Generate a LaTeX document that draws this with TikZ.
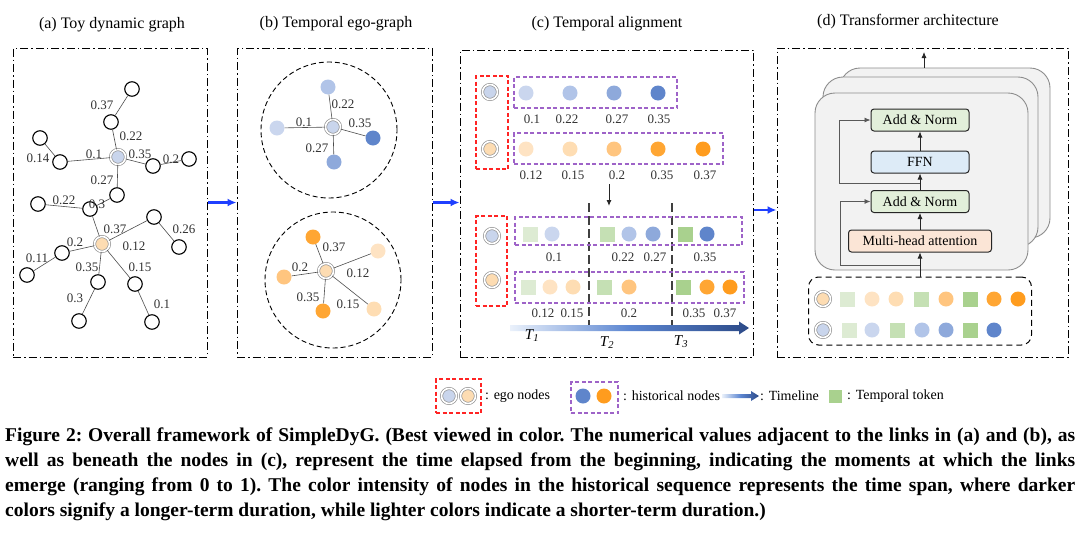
\documentclass[tikz,border=0pt]{standalone}
\usepackage{fontspec}
\setmainfont{Liberation Serif}
\usetikzlibrary{arrows.meta}

\definecolor{egoBlueC}{HTML}{C9D5EC}
\definecolor{egoOrangeC}{HTML}{FDDCB2}
\definecolor{blueA}{HTML}{CAD6EE}
\definecolor{blueB}{HTML}{B1C4E8}
\definecolor{blueC}{HTML}{8EA9DB}
\definecolor{blueD}{HTML}{5F85CB}
\definecolor{orangeA}{HTML}{FEE3C3}
\definecolor{orangeB}{HTML}{FEDDB3}
\definecolor{orangeC}{HTML}{FFC57F}
\definecolor{orangeD}{HTML}{FFA633}
\definecolor{orangeE}{HTML}{FF9C1E}
\definecolor{greenA}{HTML}{DDEBD3}
\definecolor{greenB}{HTML}{C5E0B4}
\definecolor{greenC}{HTML}{A9D18E}
\definecolor{egoRed}{HTML}{FF2424}
\definecolor{histPurple}{HTML}{9E63C8}
\definecolor{arrowBlue}{HTML}{1F3FFF}
\definecolor{tlLight}{HTML}{EAF1FB}
\definecolor{tlMid}{HTML}{5C86D1}
\definecolor{tlDark}{HTML}{2C4A88}
\definecolor{normGreen}{HTML}{E2EFDA}
\definecolor{ffnBlue}{HTML}{DDEBF7}
\definecolor{mhaPeach}{HTML}{FBE5D6}

\begin{document}
\begin{tikzpicture}
[x=1pt,y=-1pt,
  frameBox/.style={draw,line width=1pt,dash pattern=on 8pt off 3pt on 1.5pt off 3pt,inner sep=0pt},%
  titleText/.style={font=\fontsize{16}{18}\selectfont},%
  plainDecorate/.style={shape=circle,draw,line width=1.1pt,minimum size=14.5pt,inner sep=0pt,fill=white},%
  lineDecorate/.style={-,draw=black!70,line width=0.6pt},%
  timeLabel/.style={font=\fontsize{13}{14}\selectfont,text=black!80,inner sep=0pt},%
  ego/.style={shape=circle,draw=gray!85,line width=0.7pt,double=white,double distance=1.6pt,minimum size=15pt,inner sep=0pt},%
  egoBlue/.style={ego,fill=egoBlueC},%
  egoOrange/.style={ego,fill=egoOrangeC},%
  hist/.style={shape=circle,minimum size=15pt,inner sep=0pt},%
  tok/.style={shape=rectangle,minimum size=15pt,inner sep=0pt},%
  egoBox/.style={draw=egoRed,line width=1.2pt,dash pattern=on 4pt off 2.5pt,inner sep=0pt},%
  histBox/.style={draw=histPurple,line width=1.2pt,dash pattern=on 4pt off 2.5pt,inner sep=0pt},%
  spanLine/.style={draw=black!75,line width=1.2pt,dash pattern=on 9pt off 4pt},%
  blueArrow/.style={-{Latex[length=9pt,width=8pt]},draw=arrowBlue,line width=2.2pt},%
  flowArrow/.style={-{Latex[length=6pt,width=5pt]},draw=black!85,line width=0.8pt},%
  resLine/.style={draw=black!65,line width=0.8pt},%
  layerBox/.style={draw=gray!90,line width=0.9pt,fill=gray!10,rounded corners=20pt,inner sep=0pt},%
  blockBox/.style={draw=black!85,line width=1pt,rounded corners=3pt,minimum height=22pt,inner sep=0pt,font=\fontsize{14}{16}\selectfont},%
  legendText/.style={font=\fontsize{14}{16}\selectfont,anchor=west,inner sep=0pt}]
\useasboundingbox (0,0) rectangle (1080,544);

%% panel frames and titles
\node (fa) at (110,202.5) [frameBox,minimum width=194pt,minimum height=309pt] {};
\node (fb) at (334.5,202.5) [frameBox,minimum width=195pt,minimum height=309pt] {};
\node (fc) at (606.5,203.5) [frameBox,minimum width=293pt,minimum height=307pt] {};
\node (fd) at (922.5,202.5) [frameBox,minimum width=291pt,minimum height=309pt] {};
\node (ta) at (112,25) [titleText] {(a) Toy dynamic graph};
\node (tb) at (336,24) [titleText] {(b) Temporal ego-graph};
\node (tc) at (607,24) [titleText] {(c) Temporal alignment};
\node (td) at (908,22) [titleText] {(d) Transformer architecture};
\draw[blueArrow] (fa.east) -- (fb.west);
\draw[blueArrow] (fb.east) -- (fc.west |- fb.east);
\draw[blueArrow] ([yshift=-6.5pt]fc.east) -- ([yshift=-7.5pt]fd.west);

%% (a) nodes or vertices
\foreach \nodename/\x/\y in {
  a1/132/89,  a2/111/122, a3/40/138,  a4/60/162,
  a5/153/166, a6/189/159, a7/117/195, a8/90/209,
  a9/38/204,  a10/154/217, a11/179/247, a12/62/253,
  a13/27/275, a14/98/282, a15/79/321, a16/135/284, a17/152/322}
{
  \node (\nodename) at (\x,\y) [plainDecorate] {};
}
\node (aB) at (118,157) [egoBlue] {};
\node (aO) at (102,244) [egoOrange] {};
%% (a) edges or lines
\path
\foreach \startnode/\endnode in {
  a1/a2, a2/aB, aB/a4, a3/a4, aB/a5, a5/a6,
  aB/a7, a7/a8, a8/a9, a8/aO, aO/a10, a10/a11,
  aO/a12, a12/a13, aO/a14, a14/a15, aO/a16, a16/a17}
{
  (\startnode) edge[lineDecorate] (\endnode)
};
%% (a) link times
\foreach \lname/\x/\y/\t in {
  la1/102/105/0.37, la2/131/136/0.22, la3/94/154/0.1,  la4/38/158/0.14,
  la5/140/154/0.35, la6/171/159/0.2,  la7/102/180/0.27, la8/97/204/0.3,
  la9/64/200/0.22,  la10/115/229/0.37, la11/134/246/0.12, la12/184/229/0.26,
  la13/75/242/0.2,  la14/37/258/0.11, la15/87/267/0.35, la16/75/298/0.3,
  la17/140/267/0.15, la18/162/304/0.1}
{
  \node (\lname) at (\x,\y) [timeLabel] {\t};
}

%% (b) ego-graphs
\node (cb1) at (329,130) [draw,circle,line width=0.9pt,dash pattern=on 5pt off 3pt,minimum size=136pt,inner sep=0pt] {};
\node (cb2) at (333,280) [draw,circle,line width=0.9pt,dash pattern=on 5pt off 3pt,minimum size=136pt,inner sep=0pt] {};
\foreach \nodename/\x/\y/\col in {
  b1/328/87/blueB, b2/277/128/blueA, b3/373/138/blueD, b4/334/162/blueC,
  b5/313/237/orangeD, b6/284/277/orangeC, b7/378/251/orangeA,
  b8/323/311/orangeD, b9/374/309/orangeB}
{
  \node (\nodename) at (\x,\y) [hist,fill=\col] {};
}
\node (bB) at (333,127) [egoBlue] {};
\node (bO) at (326,271) [egoOrange] {};
\path
\foreach \startnode/\endnode in {
  bB/b1, bB/b2, bB/b3, bB/b4,
  bO/b5, bO/b6, bO/b7, bO/b8, bO/b9}
{
  (\startnode) edge[lineDecorate] (\endnode)
};
\foreach \lname/\x/\y/\t in {
  lb1/343/104/0.22, lb2/304/122/0.1, lb3/360/123/0.35, lb4/317/148/0.27,
  lb5/334/247/0.37, lb6/300/267/0.2, lb7/358/273/0.12, lb8/308/297/0.35,
  lb9/348/304/0.15}
{
  \node (\lname) at (\x,\y) [timeLabel] {\t};
}

%% (c) sequences before alignment
\node (rc1) at (492,122.5) [egoBox,minimum width=32pt,minimum height=93pt] {};
\node (pc1) at (595.5,92.5) [histBox,minimum width=163pt,minimum height=31pt] {};
\node (pc2) at (618.5,148.5) [histBox,minimum width=209pt,minimum height=31pt] {};
\node (cB1) at (490,92) [egoBlue] {};
\node (cO1) at (490,149) [egoOrange] {};
\foreach \nodename/\x/\col in {c11/526/blueA, c12/570/blueB, c13/614/blueC, c14/658/blueD}
{
  \node (\nodename) at (\x,93) [hist,fill=\col] {};
}
\foreach \nodename/\x/\col in {c21/526/orangeA, c22/570/orangeB, c23/614/orangeC, c24/658/orangeD, c25/703/orangeE}
{
  \node (\nodename) at (\x,149) [hist,fill=\col] {};
}
\foreach \lname/\x/\y/\t in {
  lc1/532/119/0.1,  lc2/567/119/0.22, lc3/617/119/0.27, lc4/659/119/0.35,
  lc5/531/175/0.12, lc6/573/175/0.15, lc7/617/175/0.2, lc8/662/175/0.35, lc9/705/175/0.37}
{
  \node (\lname) at (\x,\y) [timeLabel] {\t};
}
\coordinate (dArrS) at (609,184);
\coordinate (dArrE) at (609,206);
\draw[flowArrow,line width=1pt] (dArrS) -- (dArrE);

%% (c) aligned sequences
\coordinate (sp1t) at (589,203);
\coordinate (sp1b) at (589,331);
\coordinate (sp2t) at (672,203);
\coordinate (sp2b) at (672,331);
\draw[spanLine] (sp1t) -- (sp1b);
\draw[spanLine] (sp2t) -- (sp2b);
\node (rc2) at (491.5,261) [egoBox,minimum width=31pt,minimum height=90pt] {};
\node (pc3) at (628.5,231) [histBox,minimum width=227pt,minimum height=28pt] {};
\node (pc4) at (629.5,287.5) [histBox,minimum width=229pt,minimum height=31pt] {};
\node (cB2) at (492,236) [egoBlue] {};
\node (cO2) at (492,280) [egoOrange] {};
\foreach \nodename/\x/\col in {s31/530/greenA, s32/607/greenB, s33/685/greenC}
{
  \node (\nodename) at (\x,234) [tok,fill=\col] {};
}
\foreach \nodename/\x/\col in {c31/552/blueA, c32/629/blueB, c33/653/blueC, c34/707/blueD}
{
  \node (\nodename) at (\x,234) [hist,fill=\col] {};
}
\foreach \nodename/\x/\col in {s41/528/greenA, s42/604/greenB, s43/683/greenC}
{
  \node (\nodename) at (\x,287) [tok,fill=\col] {};
}
\foreach \nodename/\x/\col in {c41/550/orangeA, c42/573/orangeB, c43/629/orangeC, c44/707/orangeD, c45/730/orangeE}
{
  \node (\nodename) at (\x,287) [hist,fill=\col] {};
}
\foreach \lname/\x/\y/\t in {
  ld1/554/257/0.1,  ld2/623/257/0.22, ld3/655/257/0.27, ld4/705/257/0.35,
  ld5/543/313/0.12, ld6/572/313/0.15, ld7/629/313/0.2, ld8/694/313/0.35, ld9/725/313/0.37}
{
  \node (\lname) at (\x,\y) [timeLabel] {\t};
}
%% timeline
\shade[left color=tlLight,right color=tlDark,middle color=tlMid]
  (510,325) -- (739,325) -- (739,321.5) -- (749,328) -- (739,334.5) -- (739,331) -- (510,331) -- cycle;
\node (t1) at (532,336) [font=\fontsize{15}{16}\selectfont\itshape] {T\textsubscript{1}};
\node (t2) at (607,343) [font=\fontsize{15}{16}\selectfont\itshape] {T\textsubscript{2}};
\node (t3) at (681,342) [font=\fontsize{15}{16}\selectfont\itshape] {T\textsubscript{3}};

%% (d) transformer layers
\node (stkBack) at (945,153) [layerBox,minimum width=210pt,minimum height=170pt] {};
\node (stkMid) at (930.5,162) [layerBox,minimum width=215pt,minimum height=170pt] {};
\node (stkFront) at (921.5,181.5) [layerBox,minimum width=213pt,minimum height=177pt] {};
\node (an2) at (920,120) [blockBox,fill=normGreen,minimum width=98pt] {Add \& Norm};
\node (ffn) at (920,162) [blockBox,fill=ffnBlue,minimum width=98pt] {FFN};
\node (an1) at (920,201.5) [blockBox,fill=normGreen,minimum width=98pt] {Add \& Norm};
\node (mha) at (920,241) [blockBox,fill=mhaPeach,minimum width=143pt] {Multi-head attention};
\node (inp) at (920,311) [draw,line width=1pt,dash pattern=on 6pt off 4pt,rounded corners=10pt,minimum width=223pt,minimum height=68pt,inner sep=0pt] {};
\draw[flowArrow] (inp.north) -- (mha.south);
\draw[flowArrow] (mha.north) -- (an1.south);
\draw[flowArrow] (an1.north) -- (ffn.south);
\draw[flowArrow] (ffn.north) -- (an2.south);
\coordinate (r1) at (920,265);
\coordinate (r1c) at (840,265);
\coordinate (r2) at (920,183);
\coordinate (r2c) at (839,183);
\draw[resLine] (r1) -- (r1c);
\draw[resLine,-{Latex[length=6pt,width=5pt]}] (r1c) |- (an1.west);
\draw[resLine] (r2) -- (r2c);
\draw[resLine,-{Latex[length=6pt,width=5pt]}] (r2c) |- (an2.west);
\coordinate (outTop) at (924,52);
\draw[flowArrow] (stkBack.north -| outTop) -- (outTop);
%% (d) input tokens
\node (dO) at (823,299) [egoOrange] {};
\node (dB) at (823,330) [egoBlue] {};
\foreach \nodename/\x/\col in {u1/847/greenA, u2/921/greenB, u3/970/greenC}
{
  \node (\nodename) at (\x,299) [tok,fill=\col] {};
}
\foreach \nodename/\x/\col in {u4/872/orangeA, u5/896/orangeB, u6/946/orangeC, u7/994/orangeD, u8/1018/orangeE}
{
  \node (\nodename) at (\x,299) [hist,fill=\col] {};
}
\foreach \nodename/\x/\col in {v1/849/greenA, v2/897/greenB, v3/970/greenC}
{
  \node (\nodename) at (\x,330) [tok,fill=\col] {};
}
\foreach \nodename/\x/\col in {v4/872/blueA, v5/922/blueB, v6/946/blueC, v7/994/blueD}
{
  \node (\nodename) at (\x,330) [hist,fill=\col] {};
}

%% legend
\node (lgR) at (458.5,396) [egoBox,minimum width=45pt,minimum height=34pt] {};
\node (lgB) at (449,396) [egoBlue] {};
\node (lgO) at (468,396) [egoOrange] {};
\node (lgTa) at (485,396) [legendText] {: ego nodes};
\node (lgP) at (594.5,397.5) [histBox,minimum width=47pt,minimum height=31pt] {};
\node (lgHb) at (583,396) [hist,fill=blueD] {};
\node (lgHo) at (604,396) [hist,fill=orangeE] {};
\node (lgTb) at (623,396) [legendText] {: historical nodes};
\shade[left color=tlLight,right color=tlDark,middle color=tlMid]
  (722,394) -- (751,394) -- (751,391) -- (759,396) -- (751,401) -- (751,398) -- (722,398) -- cycle;
\node (lgTc) at (760,396) [legendText] {: Timeline};
\node (lgS) at (835,396) [tok,fill=greenC,minimum size=13pt] {};
\node (lgTd) at (847,396) [legendText] {: Temporal token};

%% caption
\node (cap) at (5,428) [anchor=north west,text width=1070pt,align=justify,inner sep=0pt,
  font=\frenchspacing\bfseries\fontsize{19.5}{25}\selectfont]
  {Figure 2: Overall framework of SimpleDyG. (Best viewed in color. The numerical values adjacent to the links in (a) and (b), as\linebreak
   well as beneath the nodes in (c), represent the time elapsed from the beginning, indicating the moments at which the links\linebreak
   emerge (ranging from 0 to 1). The color intensity of nodes in the historical sequence represents the time span, where darker\linebreak
   colors signify a longer-term duration, while lighter colors indicate a shorter-term duration.)};
\end{tikzpicture}
\end{document}
